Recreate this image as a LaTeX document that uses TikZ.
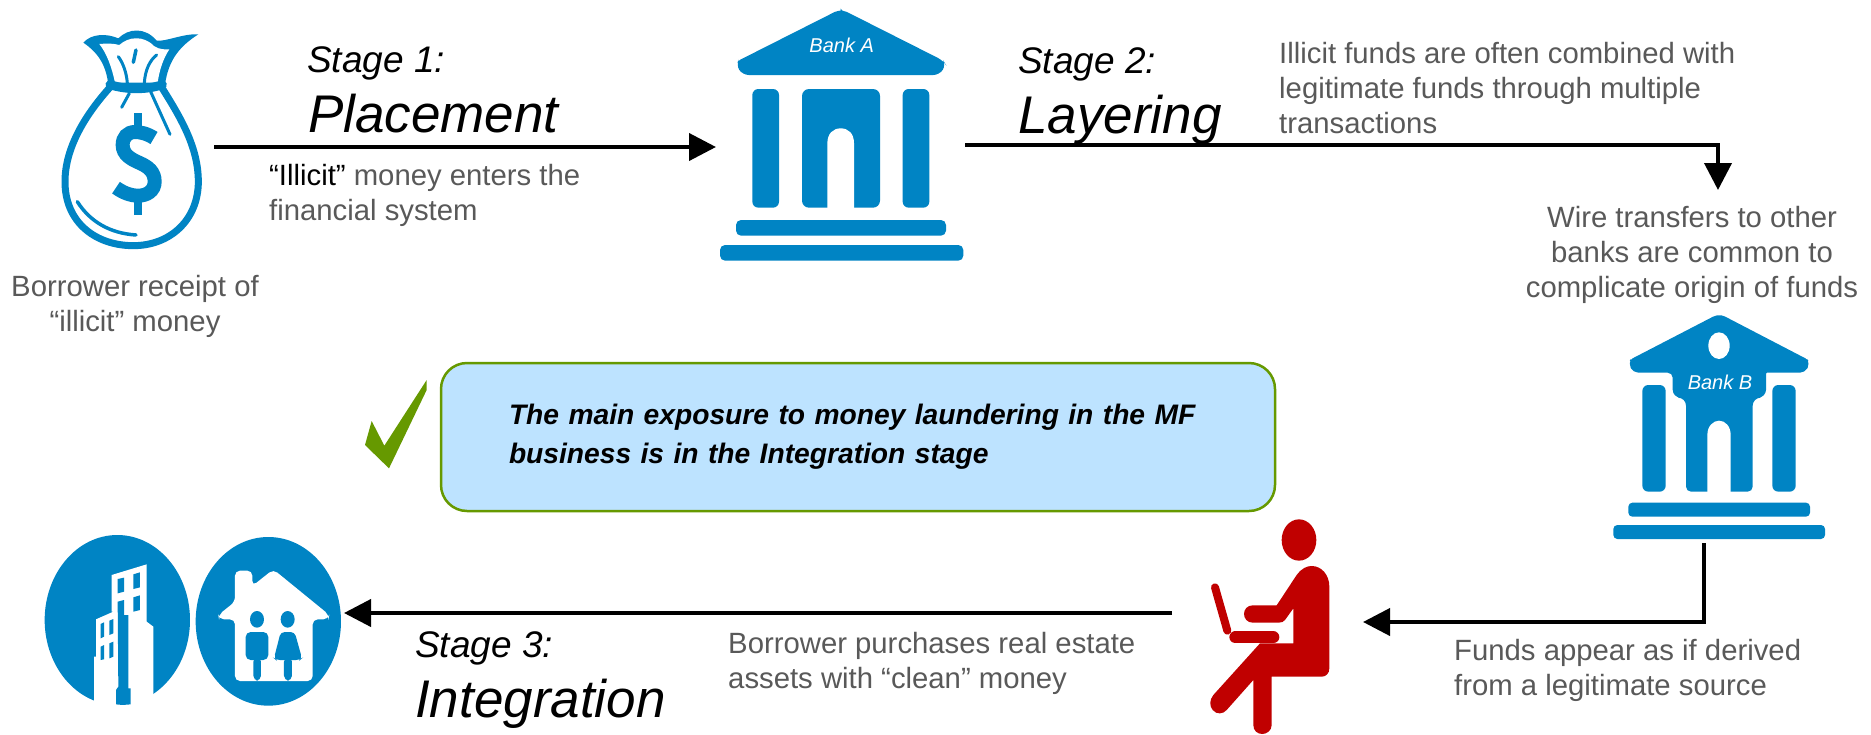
\documentclass[tikz,border=0pt]{standalone}
\usepackage{fontspec}
\setmainfont{Liberation Sans}
\usetikzlibrary{arrows.meta}
\definecolor{iconblue}{HTML}{0084C4}
\definecolor{greytext}{HTML}{595959}
\definecolor{redfig}{HTML}{C00000}
\definecolor{boxfill}{HTML}{BDE3FF}
\definecolor{okgreen}{HTML}{669900}
\tikzset{
  x=1pt,y=-1pt,
  conn/.style={draw=black,line width=4pt,-{Triangle[length=27pt,width=27pt]}},
  body/.style={font=\fontsize{29.3}{35}\selectfont,text=greytext,inner sep=0pt,align=left,anchor=base west},
  bodyc/.style={body,align=center,anchor=base},
  stagesmall/.style={font=\fontsize{37}{40}\selectfont\itshape,text=black,inner sep=0pt,anchor=base west},
  stagebig/.style={font=\fontsize{53}{56}\selectfont\itshape,text=black,inner sep=0pt,anchor=base west},
  banklabel/.style={font=\fontsize{20}{22}\selectfont\itshape,text=white,inner sep=0pt},
  icon/.style={fill=iconblue,draw=none},
  bagline/.style={draw=iconblue,line cap=round,line join=round},
  noteBox/.style={draw=okgreen,fill=boxfill,line width=2.5pt,rounded corners=26pt,minimum width=834pt,minimum height=148pt,inner xsep=68pt,inner ysep=0pt,text width=698pt,align=left,font=\fontsize{28.2}{39}\selectfont\bfseries\itshape,text=black},
}
\begin{document}
\begin{tikzpicture}
\useasboundingbox (0,0) rectangle (1871,734);
\fill[white] (0,0) rectangle (1871,734);

% connector ends
\coordinate (bagR) at (214,147);
\coordinate (bankAL) at (716,147);
\coordinate (bankAR) at (965,145);
\coordinate (wireT) at (1718,190);
\coordinate (bankBb) at (1704,543);
\coordinate (personR) at (1363,622);
\coordinate (personL) at (1172,613);
\coordinate (houseR) at (344,613);

% money bag
\begin{scope}[scale=1/3]
\draw[bagline,line width=7pt] (330,262) .. controls (260,340) and (195,440) .. (195,545) .. controls (195,670) and (290,737) .. (400,737) .. controls (510,737) and (595,660) .. (595,545) .. controls (595,440) and (540,350) .. (485,262);
\fill[icon] (325,255) .. controls (318,190) and (290,155) .. (250,128) .. controls (275,100) and (320,100) .. (355,115) .. controls (385,85) and (435,80) .. (470,122) .. controls (500,125) and (550,100) .. (595,103) .. controls (545,135) and (505,175) .. (495,255) -- cycle;
\fill[white] (345,248) .. controls (335,200) and (320,160) .. (298,132) .. controls (320,130) and (340,130) .. (358,135) .. controls (385,110) and (430,105) .. (462,138) .. controls (480,150) and (495,148) .. (508,148) .. controls (490,175) and (478,210) .. (473,248) -- cycle;
\draw[bagline,line width=9pt] (330,254) .. controls (380,270) and (440,270) .. (487,254);
\draw[bagline,line width=3pt] (355,170) .. controls (370,190) and (380,220) .. (382,250);
\draw[bagline,line width=3pt] (470,165) .. controls (450,180) and (435,210) .. (433,250);
\draw[bagline,line width=3.5pt] (408,150) -- (400,187);
\draw[bagline,line width=3pt] (388,280) -- (365,322);
\draw[bagline,line width=3pt] (452,275) -- (510,403);
\draw[bagline,line width=3.5pt] (232,605) .. controls (270,665) and (330,700) .. (408,705);
% dollar sign
\draw[draw=iconblue,line width=14pt] (462,414) .. controls (440,400) and (420,396) .. (405,396) .. controls (382,396) and (368,412) .. (368,435) .. controls (368,465) and (395,478) .. (417,488) .. controls (445,500) and (464,515) .. (464,545) .. controls (464,573) and (440,587) .. (415,587) .. controls (390,587) and (368,577) .. (348,563);
\fill[icon] (402,340) rectangle (427,385);
\fill[icon] (402,595) rectangle (427,645);
\end{scope}

% Bank A
\begin{scope}[shift={(720,0)},scale=1/3]
\fill[icon] (362,32) -- (362,32) [rounded corners=2pt] -- (350,33) -- (55,182) [rounded corners=6pt] -- (48,195) -- (68,225) -- (658,225) -- (678,195) -- (670,182) [rounded corners=2pt] -- (375,33) -- cycle;
\fill[icon,rounded corners=6pt] (97,267) rectangle (177,623);
\fill[icon,rounded corners=6pt] (548,267) rectangle (628,623);
\fill[icon,rounded corners=7pt] (246,267) rectangle (480,623);
\fill[white] (322,624) -- (322,430) .. controls (322,400) and (340,385) .. (362,385) .. controls (385,385) and (402,400) .. (402,430) -- (402,624) -- cycle;
\fill[icon,rounded corners=5pt] (48,660) rectangle (678,707);
\fill[icon,rounded corners=5pt] (0,735) rectangle (730,782);
\node[banklabel] (bankA) at (365,137) {Bank A};
\end{scope}

% Bank B
\begin{scope}[shift={(1600,300)},scale=1/3]
\fill[icon] (358,45) [rounded corners=2pt] -- (345,47) -- (92,178) [rounded corners=5pt] -- (85,190) -- (100,218) -- (218,218) [rounded corners=8pt] -- (218,293) -- (258,293) [rounded corners=5pt] -- (258,575) -- (458,575) [rounded corners=8pt] -- (458,293) -- (498,293) [rounded corners=1pt] -- (498,218) [rounded corners=5pt] -- (615,218) -- (630,190) [rounded corners=2pt] -- (622,178) -- (370,47) -- cycle;
\fill[white] (322,576) -- (322,405) .. controls (322,378) and (340,362) .. (357,362) .. controls (375,362) and (392,378) .. (392,405) -- (392,576) -- cycle;
\fill[white] (357,137) ellipse [x radius=32,y radius=40];
\fill[icon,rounded corners=6pt] (127,255) rectangle (197,575);
\fill[icon,rounded corners=6pt] (517,255) rectangle (587,575);
\fill[icon,rounded corners=4pt] (85,608) rectangle (630,650);
\fill[icon,rounded corners=4pt] (40,675) rectangle (675,717);
\node[banklabel] (bankB) at (360,247) {Bank B};
\end{scope}

% Person
\begin{scope}[shift={(1170,500)},scale=1/3]
\fill[redfig] (387,120) ellipse [x radius=52,y radius=62];
\fill[redfig] (320,316) -- (380,225) .. controls (395,205) and (410,198) .. (425,198) .. controls (455,198) and (478,225) .. (478,260) -- (478,505) .. controls (478,520) and (468,530) .. (455,530) -- (305,530) -- (305,675) .. controls (305,692) and (290,702) .. (277,702) .. controls (262,702) and (250,692) .. (250,675) -- (250,540) -- (170,630) .. controls (160,642) and (140,645) .. (128,630) .. controls (118,618) and (118,600) .. (130,585) -- (270,430) -- (370,430) -- (370,325) -- (345,360) .. controls (340,366) and (335,368) .. (325,368) -- (248,368) .. controls (232,368) and (222,355) .. (222,342) .. controls (222,328) and (232,316) .. (248,316) -- cycle;
\draw[redfig,line width=8pt,line cap=round] (135,262) -- (172,392);
\draw[redfig,line width=12pt,line cap=round] (196,412) -- (310,412);
\end{scope}

% Office building circle
\begin{scope}[shift={(20,510)},scale=1/3]
\fill[icon] (292,330) ellipse [x radius=218,y radius=255];
\fill[white] (222,600) -- (222,440) -- (228,440) -- (228,328) -- (280,305) -- (275,305) -- (275,195) -- (380,163) -- (380,335) -- (400,350) -- (400,600) -- cycle;
\fill[icon] (293,275) -- (312,270) -- (312,315) -- (325,315) -- (325,535) -- (332,535) -- (332,583) .. controls (315,585) and (300,585) .. (288,583) -- (288,540) -- (295,530) -- cycle;
\fill[icon] (293,207) -- (312,203) -- (312,245) -- (293,250) -- cycle;
\fill[icon] (340,193) -- (360,187) -- (360,232) -- (340,237) -- cycle;
\fill[icon] (340,262) -- (360,256) -- (360,300) -- (340,305) -- cycle;
\fill[icon] (242,342) -- (252,337) -- (252,380) -- (242,385) -- cycle;
\fill[icon] (268,332) -- (280,327) -- (280,370) -- (268,375) -- cycle;
\fill[icon] (242,410) -- (252,405) -- (252,448) -- (242,450) -- cycle;
\fill[icon] (268,400) -- (280,395) -- (280,440) -- (268,445) -- cycle;
% House circle
\fill[icon] (745,334) ellipse [x radius=218,y radius=253];
\fill[white,rounded corners=5pt] (645,275) -- (645,182) -- (697,182) -- (697,228) -- (760,178) -- (928,315) -- (925,328) -- (878,328) -- (878,513) -- (645,513) -- (645,328) -- (597,328) -- (595,315) -- cycle;
\fill[icon] (711,328) ellipse [x radius=21,y radius=25];
\fill[icon] (803,328) ellipse [x radius=21,y radius=25];
\fill[icon,rounded corners=5pt] (677,366) rectangle (745,450);
\fill[icon,rounded corners=5pt] (700,440) rectangle (723,512);
\fill[icon,rounded corners=4pt] (782,366) -- (824,366) -- (846,445) -- (840,450) -- (768,450) -- (762,445) -- cycle;
\fill[icon,rounded corners=5pt] (792,440) rectangle (816,512);
\end{scope}

% check mark
\begin{scope}[shift={(340,350)},scale=1/3]
\fill[okgreen] (260,90) -- (260,120) -- (147,355) -- (75,285) -- (95,213) -- (133,287) -- cycle;
\end{scope}

% note box
\node[noteBox] (note) at (858,437) {The main exposure to money laundering in the MF\\business is in the Integration stage};

% connectors
\draw[conn] (bagR) -- (bankAL);
\draw[conn] (bankAR) -| (wireT);
\draw[conn] (bankBb) |- (personR);
\draw[conn] (personL) -- (houseR);

% texts
\node[bodyc] (tBorrower) at (135,331) {Borrower receipt of\\“illicit” money};
\node[stagesmall] (s1) at (307,72) {Stage 1:};
\node[stagebig] (p1) at (308,132) {Placement};
\node[body] (tIllicit) at (269,220) {{\color{black}“Illicit”} money enters the\\financial system};
\node[stagesmall] (s2) at (1018,73) {Stage 2:};
\node[stagebig] (p2) at (1018,133) {Layering};
\node[body] (tFunds) at (1279,133) {Illicit funds are often combined with\\legitimate funds through multiple\\transactions};
\node[bodyc] (tWire) at (1692,297) {Wire transfers to other\\banks are common to\\complicate origin of funds};
\node[stagesmall] (s3) at (415,657) {Stage 3:};
\node[stagebig] (p3) at (415,717) {Integration};
\node[body] (tPurchase) at (728,688) {Borrower purchases real estate\\assets with “clean” money};
\node[body] (tAppear) at (1454,695) {Funds appear as if derived\\from a legitimate source};
\end{tikzpicture}
\end{document}
